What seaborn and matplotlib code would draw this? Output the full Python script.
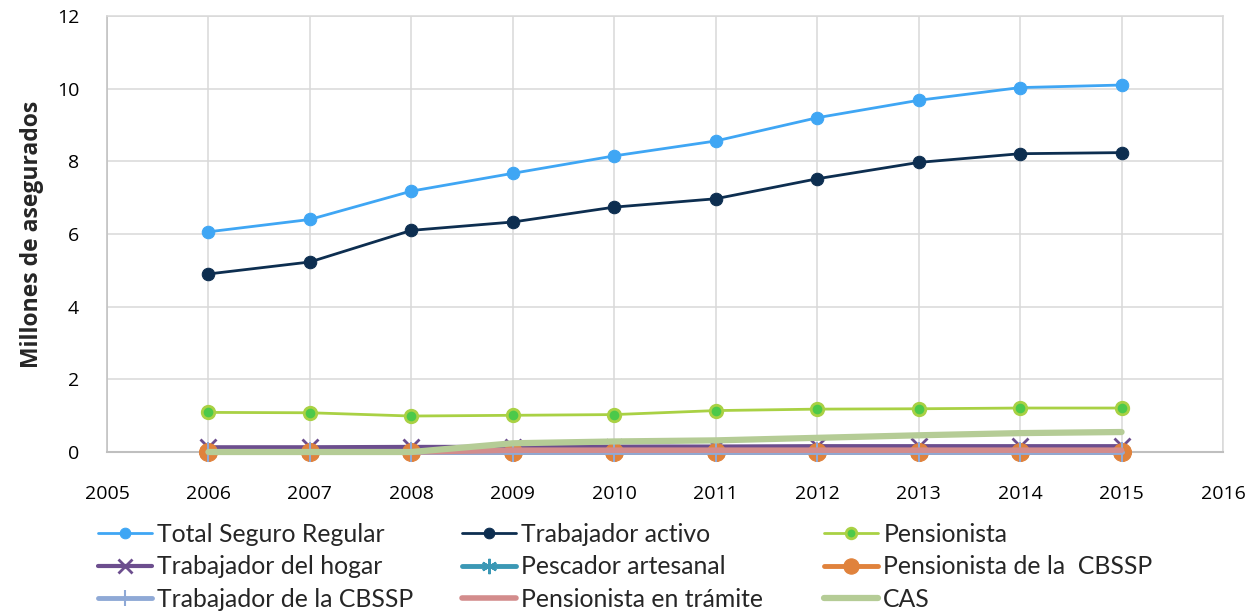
import matplotlib
matplotlib.use("Agg")
import matplotlib.pyplot as plt
import seaborn as sns

years = [2006, 2007, 2008, 2009, 2010, 2011, 2012, 2013, 2014, 2015]

total_regular = [6.06, 6.40, 7.18, 7.67, 8.15, 8.56, 9.20, 9.68, 10.03, 10.10]
trabajador_activo = [4.90, 5.23, 6.10, 6.33, 6.74, 6.97, 7.52, 7.97, 8.21, 8.24]
pensionista = [1.09, 1.08, 0.99, 1.01, 1.03, 1.14, 1.18, 1.19, 1.21, 1.21]
trabajador_hogar = [0.13, 0.13, 0.14, 0.14, 0.15, 0.15, 0.16, 0.16, 0.16, 0.16]
pescador_artesanal = [0.01, 0.01, 0.01, 0.01, 0.01, 0.01, 0.01, 0.01, 0.01, 0.01]
pensionista_cbssp = [0.01, 0.01, 0.01, 0.01, 0.01, 0.01, 0.01, 0.01, 0.01, 0.01]
trabajador_cbssp = [0.01, 0.01, 0.01, 0.01, 0.01, 0.01, 0.01, 0.01, 0.01, 0.01]
pensionista_tramite = [0.0, 0.0, 0.0, 0.05, 0.05, 0.05, 0.05, 0.05, 0.05, 0.05]
cas = [0.0, 0.0, 0.0, 0.24, 0.29, 0.32, 0.39, 0.46, 0.52, 0.55]

series_names = [
    "Total Seguro Regular", "Trabajador activo", "Pensionista",
    "Trabajador del hogar", "Pescador artesanal", "Pensionista de la  CBSSP",
    "Trabajador de la CBSSP", "Pensionista en trámite", "CAS",
]
series_values = [
    total_regular, trabajador_activo, pensionista,
    trabajador_hogar, pescador_artesanal, pensionista_cbssp,
    trabajador_cbssp, pensionista_tramite, cas,
]

styles = [
    dict(color="#3FA6F4", lw=2.0, marker="o", ms=9, mfc="#3FA6F4", mec="#3FA6F4"),
    dict(color="#0D2E50", lw=2.0, marker="o", ms=9, mfc="#0D2E50", mec="#0D2E50"),
    dict(color="#A9D144", lw=2.0, marker="o", ms=9, mfc="#4CC94A", mec="#A9D144", mew=2),
    dict(color="#6C4E8E", lw=3.0, marker="x", ms=12, mfc="#6C4E8E", mec="#6C4E8E", mew=2),
    dict(color="#3B98B5", lw=3.5, marker=(6, 2, 0), ms=13, mfc="#3B98B5", mec="#3B98B5", mew=1.5),
    dict(color="#E0823C", lw=3.5, marker="o", ms=13, mfc="#E0823C", mec="#E0823C"),
    dict(color="#8FA9D6", lw=3.5, marker="|", ms=14, mfc="#8FA9D6", mec="#8FA9D6", mew=1.5),
    dict(color="#D38C8C", lw=4.0, marker=None),
    dict(color="#B5CC96", lw=4.5, marker=None),
]

sns.set_theme(style="white")
plt.rcParams["font.family"] = ["Open Sans", "DejaVu Sans"]

fig = plt.figure(figsize=(12.6, 6.12), dpi=100)
ax = fig.add_axes([107 / 1260, 1 - 452 / 612, (1223 - 107) / 1260, (452 - 16) / 612])

# each later series is drawn over the earlier ones; markers may spill below the axis
handles = {}
for i in range(len(series_names)):
    sns.lineplot(x=years, y=series_values[i], ax=ax, label=series_names[i],
                 legend=False, zorder=3 + i, clip_on=False, **styles[i])
    handles[i] = ax.get_lines()[-1]

ax.set_xlim(2005, 2016)
ax.set_ylim(0, 12)
ax.set_xticks(range(2005, 2017))
ax.set_yticks(range(0, 13, 2))
ax.grid(True, color="#D9D9D9", lw=1.1)
ax.set_axisbelow(True)
for sp in ax.spines.values():
    sp.set_color("#D9D9D9")
    sp.set_linewidth(1.1)
    sp.set_zorder(1)
ax.spines["left"].set_color("#BFBFBF")
ax.spines["bottom"].set_color("#BFBFBF")
ax.spines["bottom"].set_linewidth(1.5)
ax.tick_params(axis="both", length=0, labelsize=14, colors="#000000")
ax.tick_params(axis="x", pad=24)
ax.tick_params(axis="y", pad=20)
ax.set_xlabel("")
ax.set_ylabel("Millones de asegurados", fontsize=16.5, fontweight="bold", labelpad=9)

# legend: three columns, filled row by row
col_x = [98 / 1260, 462 / 1260, 824 / 1260]
row_mid = 1 - 567 / 612
for c in range(3):
    idx = [c, c + 3, c + 6]
    fig.legend([handles[i] for i in idx], [series_names[i] for i in idx],
               loc="center left", bbox_to_anchor=(col_x[c], row_mid),
               frameon=False, prop={"family": "Lato", "size": 17.8},
               handlelength=2.2, handletextpad=0.2, labelspacing=0.39,
               borderaxespad=0, borderpad=0, markerscale=0.85)

fig.savefig("out.png", dpi=100)
